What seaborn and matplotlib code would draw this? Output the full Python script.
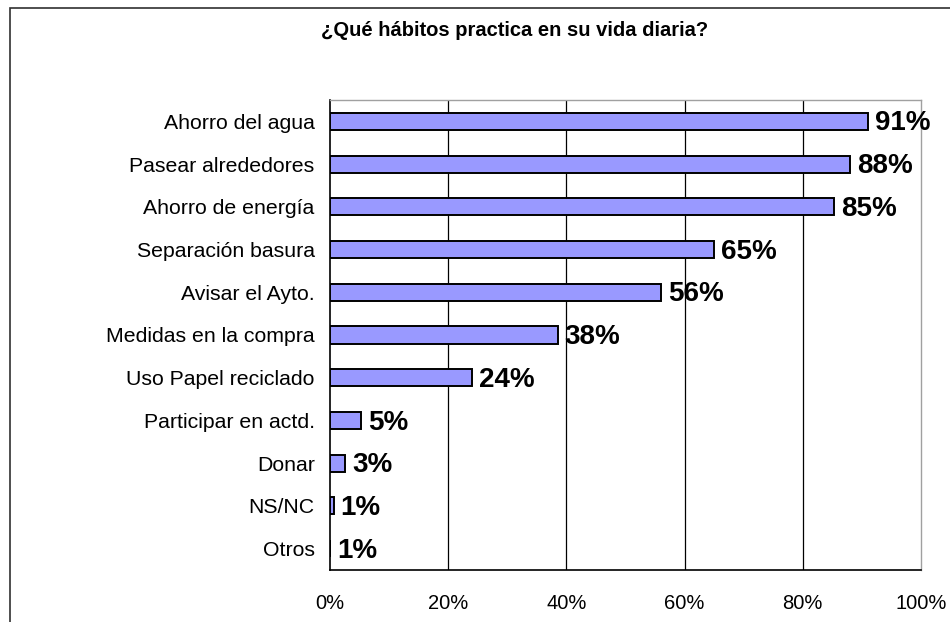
import numpy as np
import pandas as pd
import matplotlib
matplotlib.use("Agg")
import matplotlib.pyplot as plt
from matplotlib.patches import Rectangle
import seaborn as sns

# data
habitos = ["Ahorro del agua", "Pasear alrededores", "Ahorro de energía",
           "Separación basura", "Avisar el Ayto.", "Medidas en la compra",
           "Uso Papel reciclado", "Participar en actd.", "Donar", "NS/NC", "Otros"]
porcentaje = [91, 88, 85.3, 65, 56, 38.5, 24, 5.3, 2.6, 0.6, 0.0]
etiquetas = ["91%", "88%", "85%", "65%", "56%", "38%", "24%", "5%", "3%", "1%", "1%"]
ticks_x = [0, 20, 40, 60, 80, 100]

sns.set_style("white")
plt.rcParams['font.family'] = ['Liberation Sans', 'DejaVu Sans']
plt.rcParams['text.color'] = 'black'
plt.rcParams['xtick.color'] = 'black'
plt.rcParams['ytick.color'] = 'black'

df = pd.DataFrame({"habito": habitos, "pct": porcentaje})

fig = plt.figure(figsize=(9.5, 6.22), dpi=100)
ax = fig.add_axes([330 / 950, 1 - 570 / 622, 591 / 950, 470 / 622])

sns.barplot(data=df, x="pct", y="habito", orient="h", color="#9999FF",
            saturation=1, width=0.4, edgecolor="black", linewidth=1.4, ax=ax, zorder=3)

ax.set_xlim(0, 100)
ax.set_ylim(len(habitos) - 0.5, -0.5)
ax.set_xticks(ticks_x)
ax.set_xticklabels([f"{t}%" for t in ticks_x], fontsize=14.5)
ax.tick_params(axis="x", direction="out", length=5, width=1, pad=12)

# ticks between categories, labels at the centres
ax.set_yticks(np.arange(-0.5, len(habitos), 1))
ax.set_yticklabels([])
ax.set_yticks(range(len(habitos)), minor=True)
ax.set_yticklabels(habitos, minor=True, fontsize=15.3)
ax.tick_params(axis="y", which="major", direction="out", length=5, width=1)
ax.tick_params(axis="y", which="minor", length=0, pad=11)

ax.set_xlabel("")
ax.set_ylabel("")
for t in ticks_x[1:-1]:
    ax.axvline(t, color="black", linewidth=0.9, zorder=1)

for s in ["left", "bottom"]:
    ax.spines[s].set_color("black")
    ax.spines[s].set_linewidth(1.2)
for s in ["top", "right"]:
    ax.spines[s].set_color("#a0a0a0")
    ax.spines[s].set_linewidth(1)

for i, (v, lab) in enumerate(zip(porcentaje, etiquetas)):
    ax.annotate(lab, xy=(v, i), xytext=(5, -1.5), textcoords="offset points",
                va="center", ha="left", fontsize=20, fontweight="bold", zorder=4)

fig.text(515 / 950, 1 - 31 / 622, "¿Qué hábitos practica en su vida diaria?",
         ha="center", va="center", fontsize=14.5, fontweight="bold")

# outer chart frame (runs off the right and bottom edges)
fig.patches.append(Rectangle((10 / 950, -0.1), 1.2, 1 - 8 / 622 + 0.1,
                             transform=fig.transFigure, fill=False,
                             edgecolor="#303030", linewidth=1.2))

fig.savefig("out.png", dpi=100)
